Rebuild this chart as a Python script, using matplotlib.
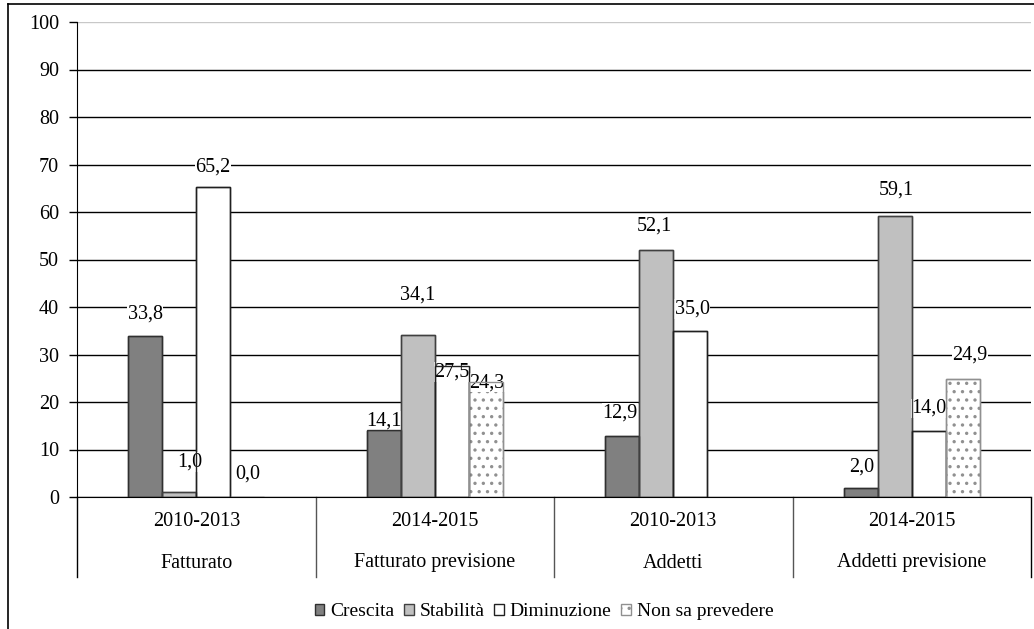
import matplotlib
matplotlib.use("Agg")
import matplotlib.pyplot as plt
import matplotlib.transforms as mtransforms
from matplotlib.lines import Line2D
from matplotlib.patches import Patch
import numpy as np

# ---- data -------------------------------------------------------------
periods = ["2010-2013", "2014-2015", "2010-2013", "2014-2015"]
measures = ["Fatturato", "Fatturato previsione", "Addetti", "Addetti previsione"]
series_names = ["Crescita", "Stabilità", "Diminuzione", "Non sa prevedere"]
crescita = [33.8, 14.1, 12.9, 2.0]
stabilita = [1.0, 34.1, 52.1, 59.1]
diminuzione = [65.2, 27.5, 35.0, 14.0]
non_sa = [0.0, 24.3, None, 24.9]
y_ticks = list(range(0, 101, 10))

# ---- styling ------------------------------------------------------------
plt.rcParams["font.family"] = ["Liberation Serif", "DejaVu Serif"]
plt.rcParams["hatch.linewidth"] = 1.2
FS = 14.5

series = [crescita, stabilita, diminuzione, non_sa]
faces = ["#808080", "#c0c0c0", "white", "white"]
edges = ["#303030", "#404040", "#202020", "#909090"]
hatches = [None, None, None, ".."]

# label offsets (dx, dy) in pixels, relative to the top-centre of each bar
label_offsets = [
    [(0, 22), (0, 9), (-2, 23), (1, 20)],      # Crescita
    [(11, 30), (0, 40), (-2, 23), (2, 26)],    # Stabilità
    [(0, 20), (0, -6), (2, 22), (0, 22)],      # Diminuzione
    [(1, 23), (1, -1), (0, 0), (7, 24)],       # Non sa prevedere
]

W, H = 1034, 629
fig = plt.figure(figsize=(W / 100, H / 100), dpi=100)
ax_left, ax_right, ax_top, ax_bottom = 77, 1031, 22, 497
ax = fig.add_axes([ax_left / W, 1 - ax_bottom / H,
                   (ax_right - ax_left) / W, (ax_bottom - ax_top) / H])

n_groups = len(measures)
x = np.arange(n_groups)
w = 34 / ((ax_right - ax_left) / n_groups)

for i, vals in enumerate(series):
    xs = x + (i - 1.5) * w
    for g, (xi, v) in enumerate(zip(xs, vals)):
        if v is None:
            continue
        ax.bar(xi, v, w, color=faces[i], edgecolor=edges[i], linewidth=1,
               hatch=hatches[i], zorder=3)
        # bar outline kept visible above the value labels
        ax.bar(xi, v, w, fill=False, edgecolor=edges[i], linewidth=1, zorder=5)
        dx, dy = label_offsets[i][g]
        ax.annotate(f"{v:.1f}".replace(".", ","), (xi, v),
                    xytext=(dx * 0.72, dy * 0.72), textcoords="offset points",
                    ha="center", va="center", fontsize=FS, zorder=4,
                    bbox=dict(boxstyle="square,pad=0.02", fc="white", ec="none"))

ax.set_xlim(-0.5, n_groups - 0.5)
ax.set_ylim(0, 100)
ax.set_yticks(y_ticks)
ax.set_xticks([])
ax.tick_params(axis="y", direction="out", length=5.8, width=1, color="black",
               labelsize=FS, pad=7)
ax.yaxis.grid(True, color="black", linewidth=1)
ax.set_axisbelow(True)
ax.get_ygridlines()[-1].set_color("#c8c8c8")
for side in ("top", "right"):
    ax.spines[side].set_visible(False)
ax.spines["left"].set_color("black")
ax.spines["bottom"].set_color("black")
ax.spines["bottom"].set_zorder(6)

# category table under the plot
trans = mtransforms.blended_transform_factory(ax.transData, ax.transAxes)
axh = ax_bottom - ax_top
table_bottom = -(577 - ax_bottom) / axh
for k, xb in enumerate(np.arange(-0.5, n_groups, 1.0)):
    col = "black" if k in (0, n_groups) else "#555555"
    ax.add_line(Line2D([xb, xb], [0, table_bottom], transform=trans,
                       color=col, linewidth=1, clip_on=False))
for g in range(n_groups):
    ax.text(g, -(522 - ax_bottom) / axh, periods[g], transform=trans,
            ha="center", va="center", fontsize=FS)
    ax.text(g, -(563 - ax_bottom) / axh, measures[g], transform=trans,
            ha="center", va="center", fontsize=FS)

# legend
handles = [Patch(facecolor=faces[i], edgecolor=edges[i], hatch=hatches[i],
                 linewidth=1) for i in range(4)]
fig.legend(handles, series_names, loc="center", ncol=4, frameon=False,
           bbox_to_anchor=(544 / W, 1 - 612 / H), fontsize=14,
           handlelength=0.5, handleheight=0.5, handletextpad=0.3,
           columnspacing=0.5, borderpad=0)

# outer chart frame
fx, fy = 8 / W, 1 - 4 / H
fig.add_artist(Line2D([fx, fx], [0, fy], transform=fig.transFigure,
                      color="black", linewidth=1.2))
fig.add_artist(Line2D([fx, 1], [fy, fy], transform=fig.transFigure,
                      color="black", linewidth=1.2))

fig.savefig("out.png", dpi=100)
